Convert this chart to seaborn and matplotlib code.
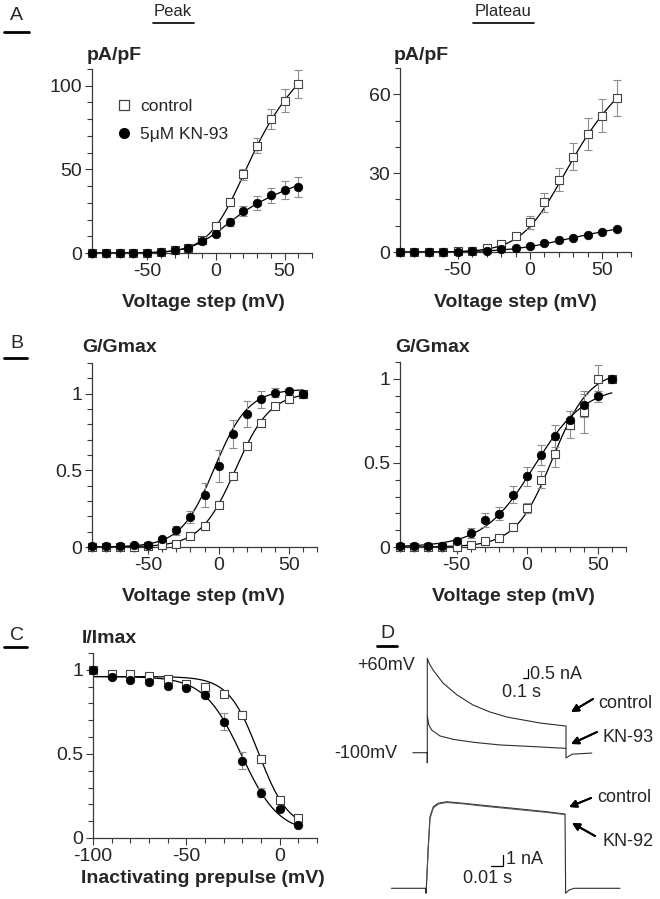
import matplotlib.pyplot as plt
import seaborn as sns
import numpy as np
from matplotlib.ticker import MultipleLocator, FuncFormatter
from matplotlib.lines import Line2D

sns.set_style('ticks')
plt.rcParams['font.family'] = ['Liberation Sans', 'DejaVu Sans']
plt.rcParams['axes.unicode_minus'] = False

W, H = 660, 899

# ---------------- data ----------------
volts = [-90, -80, -70, -60, -50, -40, -30, -20, -10, 0, 10, 20, 30, 40, 50, 60]
prepulse = [-100, -90, -80, -70, -60, -50, -40, -30, -20, -10, 0, 10]

# A, peak current density (pA/pF)
peak_ctrl = [0, 0, 0, 0, 0, 0.8, 1.5, 3, 7.5, 16, 30.5, 47, 64, 80, 91, 101]
peak_ctrl_err = [0, 0, 0, 0, 0, 0, 0.3, 0.5, 1, 1.5, 2, 3.5, 4.5, 6, 7, 8.5]
peak_kn = [0, 0, 0, 0, 0, 0.8, 1.5, 3.2, 7, 11.5, 18.5, 25, 30, 34.5, 37.5, 39.5]
peak_kn_err = [0, 0, 0, 0, 0, 0, 0.3, 0.5, 1, 1.5, 2.5, 3, 4, 4.5, 5.5, 6]

# A, plateau current density (pA/pF)
plat_ctrl = [0, 0, 0, 0, 0.3, 0.5, 1.5, 3, 6, 11.3, 18.9, 27.5, 36.3, 44.9, 51.9, 58.6]
plat_ctrl_err = [0, 0, 0, 0, 0, 0, 0.3, 0.5, 1, 2.5, 3.5, 4.3, 5.2, 6, 6.3, 6.7]
plat_kn = [0, 0, 0, 0, 0.1, 0.3, 0.5, 1, 1.5, 2.2, 3.3, 4.4, 5.2, 6.5, 7.5, 8.7]
plat_kn_err = [0] * 16

# B, G/Gmax peak
gpk_ctrl = [0, 0, 0, 0, 0.005, 0.01, 0.02, 0.07, 0.14, 0.275, 0.465, 0.66, 0.81, 0.92, 0.965, 1.0]
gpk_ctrl_err = [0, 0, 0, 0, 0, 0, 0, 0.005, 0.01, 0.01, 0.01, 0.01, 0.01, 0.01, 0.005, 0]
gpk_kn = [0.005, 0.005, 0.005, 0.01, 0.015, 0.054, 0.11, 0.195, 0.34, 0.53, 0.735, 0.87, 0.963, 1.006, 1.02, 1.0]
gpk_kn_err = [0, 0, 0, 0, 0, 0.01, 0.03, 0.04, 0.08, 0.105, 0.09, 0.085, 0.055, 0.03, 0.01, 0]

# B, G/Gmax plateau
gpl_ctrl = [0, 0, 0, 0, 0, 0.01, 0.038, 0.055, 0.12, 0.23, 0.40, 0.555, 0.727, 0.80, 1.0, 1.0]
gpl_ctrl_err = [0, 0, 0, 0, 0, 0, 0.005, 0.01, 0.01, 0.03, 0.05, 0.08, 0.08, 0.125, 0.085, 0]
gpl_kn = [0.005, 0.005, 0.005, 0.005, 0.036, 0.083, 0.16, 0.198, 0.31, 0.42, 0.547, 0.661, 0.756, 0.842, 0.895, 1.0]
gpl_kn_err = [0, 0, 0, 0, 0.01, 0.03, 0.04, 0.04, 0.05, 0.055, 0.06, 0.065, 0.055, 0.07, 0.03, 0]

# C, steady-state inactivation I/Imax
inact_ctrl = [1.0, 0.976, 0.975, 0.965, 0.948, 0.918, 0.896, 0.855, 0.732, 0.467, 0.225, 0.121]
inact_ctrl_err = [0, 0, 0, 0, 0, 0, 0, 0.01, 0.015, 0.02, 0.01, 0.01]
inact_kn = [1.0, 0.96, 0.938, 0.93, 0.903, 0.889, 0.851, 0.692, 0.459, 0.27, 0.175, 0.08]
inact_kn_err = [0, 0, 0, 0, 0, 0, 0.01, 0.05, 0.05, 0.025, 0.01, 0.005]

# fitted curve parameters: (g, Erev, Vhalf, k) for I-V, (A, Vhalf, k) for G-V,
# (top, bottom, Vhalf, k) for inactivation
iv_peak_ctrl_fit = (0.72, -85, 13.8, 13.3)
iv_peak_kn_fit = (0.282, -85, 0, 13)
iv_plat_ctrl_fit = (0.4236, -85, 15, 15)
iv_plat_kn_fit = (0.0649, -85, 10, 20)
gv_peak_ctrl_fit = (1.01, 12, 12.4)
gv_peak_kn_fit = (1.03, -2.9, 12)
gv_plat_ctrl_fit = (1.05, 18, 13)
gv_plat_kn_fit = (0.96, 5, 18)
inact_ctrl_fit = (0.96, 0.05, -11.3, 8.05)
inact_kn_fit = (0.96, 0.03, -20.5, 10)

# D, current traces (time s, current nA)
d1_ctrl_t = [-0.29, 0, 0, 0, 0.04, 0.114, 0.314, 0.594, 0.914, 1.254, 1.594, 1.914, 2.254, 2.774, 2.774, 2.9, 3.29]
d1_ctrl_i = [0, 0, -0.56, 5.24, 4.95, 4.6, 3.87, 3.21, 2.65, 2.26, 1.98, 1.82, 1.65, 1.48, -0.29, -0.08, -0.02]
d1_kn_t = [0, 0.03, 0.087, 0.254, 0.52, 0.92, 1.454, 2.12, 2.774]
d1_kn_i = [2.04, 1.55, 1.26, 0.93, 0.74, 0.58, 0.43, 0.34, 0.24]
d2_ctrl_t = [-0.027, 0, 0.0003, 0.0008, 0.002, 0.0034, 0.006, 0.0099, 0.0165, 0.0296, 0.0428,
             0.069, 0.0953, 0.1097, 0.1102, 0.113, 0.117, 0.153]
d2_ctrl_i = [0, 0, -0.45, 0.75, 3.78, 6.51, 7.42, 7.73, 7.87, 7.73, 7.57, 7.27, 6.96, 6.75, -0.45, -0.15, 0, 0]
d2_kn_t = [0.0008, 0.002, 0.0034, 0.006, 0.0099, 0.0165, 0.0296, 0.0428, 0.069, 0.0953, 0.1097]
d2_kn_i = [0.7, 3.6, 6.35, 7.3, 7.66, 7.8, 7.68, 7.5, 7.2, 6.9, 6.7]


def iv_curve(v, p):
    g, erev, vh, k = p
    return g * (v - erev) / (1 + np.exp((vh - v) / k))


def gv_curve(v, p):
    a, vh, k = p
    return a / (1 + np.exp((vh - v) / k))


def inact_curve(v, p):
    top, bot, vh, k = p
    return (top - bot) / (1 + np.exp((v - vh) / k)) + bot


fig = plt.figure(figsize=(W / 100, H / 100), dpi=100)


def px_axes(x0, x1, ytop, ybot):
    return fig.add_axes([x0 / W, 1 - ybot / H, (x1 - x0) / W, (ybot - ytop) / H])


def fx(x):
    return x / W


def fy(y):
    return 1 - y / H


AX_C = '#3a3a3a'
ERR_C = '#8c8c8c'


def style(ax, xlim, ylim, xmaj, ymaj, ymin):
    ax.set_xlim(xlim)
    ax.set_ylim(ylim)
    ax.xaxis.set_major_locator(MultipleLocator(xmaj))
    ax.xaxis.set_minor_locator(MultipleLocator(10))
    ax.yaxis.set_major_locator(MultipleLocator(ymaj))
    ax.yaxis.set_minor_locator(MultipleLocator(ymin))
    ax.yaxis.set_major_formatter(FuncFormatter(lambda v, p: '%g' % round(v, 3)))
    sns.despine(ax=ax)
    for s in ['left', 'bottom']:
        ax.spines[s].set_color(AX_C)
        ax.spines[s].set_linewidth(0.9)
    ax.tick_params(which='major', length=5, width=0.8, color=AX_C, labelsize=14, pad=2)
    ax.tick_params(which='minor', length=3.5, width=0.8, color=AX_C)


def draw_series(ax, x, ctrl, ctrl_err, kn, kn_err, xfit, ctrl_fit, kn_fit):
    sns.lineplot(x=xfit, y=ctrl_fit, ax=ax, color='black', lw=0.9)
    sns.lineplot(x=xfit, y=kn_fit, ax=ax, color='black', lw=0.9)
    for vals, errs in [(ctrl, ctrl_err), (kn, kn_err)]:
        xs = [a for a, e in zip(x, errs) if e > 0]
        ys = [b for b, e in zip(vals, errs) if e > 0]
        es = [e for e in errs if e > 0]
        if xs:
            ax.errorbar(xs, ys, yerr=es, fmt='none', ecolor=ERR_C, elinewidth=0.8,
                        capsize=3, capthick=0.8, zorder=3)
    sns.scatterplot(x=x, y=ctrl, ax=ax, marker='s', s=32, color='white',
                    edgecolor='#444444', linewidth=0.8, zorder=4, clip_on=False)
    sns.scatterplot(x=x, y=kn, ax=ax, marker='o', s=38, color='black',
                    edgecolor='black', linewidth=0.5, zorder=5, clip_on=False)


def labels(ax, xlab, xpos, ylab, ypos):
    ax.set_xlabel(xlab, fontsize=14, fontweight='bold', va='center')
    ax.xaxis.set_label_coords(*xpos)
    ax.set_ylabel(ylab, fontsize=14, fontweight='bold', rotation=0, ha='left', va='center')
    ax.yaxis.set_label_coords(*ypos)


vfit = np.linspace(-90, 60, 301)
vfit_c = np.linspace(-100, 10, 221)

# ---- A left: peak ----
ax = px_axes(92, 312, 69, 253)
draw_series(ax, volts, peak_ctrl, peak_ctrl_err, peak_kn, peak_kn_err,
            vfit, iv_curve(vfit, iv_peak_ctrl_fit), iv_curve(vfit, iv_peak_kn_fit))
style(ax, (-90, 70), (0, 110), 50, 50, 10)
labels(ax, 'Voltage step (mV)', (0.505, -0.27), 'pA/pF', (-0.025, 1.076))
handles = [Line2D([], [], marker='s', ls='', mfc='white', mec='#444444', ms=6.5, mew=0.9),
           Line2D([], [], marker='o', ls='', mfc='black', mec='black', ms=7)]
ax.legend(handles, ['control', '5\u03bcM KN-93'], loc='upper left', bbox_to_anchor=(0.115, 0.84),
          frameon=False, fontsize=12.5, handlelength=0.8, handletextpad=0.5,
          labelspacing=0.75, borderaxespad=0, borderpad=0)

# ---- A right: plateau ----
ax = px_axes(400, 631, 68, 252)
draw_series(ax, volts, plat_ctrl, plat_ctrl_err, plat_kn, plat_kn_err,
            vfit, iv_curve(vfit, iv_plat_ctrl_fit), iv_curve(vfit, iv_plat_kn_fit))
style(ax, (-90, 70), (0, 70), 50, 30, 10)
labels(ax, 'Voltage step (mV)', (0.498, -0.276), 'pA/pF', (-0.026, 1.07))

# ---- B left ----
ax = px_axes(92, 317, 363, 547)
draw_series(ax, volts, gpk_ctrl, gpk_ctrl_err, gpk_kn, gpk_kn_err,
            vfit, gv_curve(vfit, gv_peak_ctrl_fit), gv_curve(vfit, gv_peak_kn_fit))
style(ax, (-90, 70), (0, 1.2), 50, 0.5, 0.1)
labels(ax, 'Voltage step (mV)', (0.494, -0.268), 'G/Gmax', (-0.045, 1.085))

# ---- B right ----
ax = px_axes(400, 626, 362, 547)
draw_series(ax, volts, gpl_ctrl, gpl_ctrl_err, gpl_kn, gpl_kn_err,
            vfit, gv_curve(vfit, gv_plat_ctrl_fit), gv_curve(vfit, gv_plat_kn_fit))
style(ax, (-90, 70), (0, 1.1), 50, 0.5, 0.1)
labels(ax, 'Voltage step (mV)', (0.5, -0.266), 'G/Gmax', (-0.022, 1.08))

# ---- C ----
ax = px_axes(93, 317, 653, 838)
draw_series(ax, prepulse, inact_ctrl, inact_ctrl_err, inact_kn, inact_kn_err,
            vfit_c, inact_curve(vfit_c, inact_ctrl_fit), inact_curve(vfit_c, inact_kn_fit))
style(ax, (-100, 20), (0, 1.1), 50, 0.5, 0.1)
labels(ax, 'Inactivating prepulse (mV)', (0.492, -0.218), 'I/Imax', (-0.049, 1.081))

# ---- D traces ----
TR_C = '#2e2e2e'
ax1 = px_axes(330, 660, 640, 770)
ax1.set_xlim(-1.946, 4.654)
ax1.set_ylim(-0.961, 6.261)
ax1.axis('off')
sns.lineplot(x=d1_ctrl_t, y=d1_ctrl_i, ax=ax1, color=TR_C, lw=0.8, sort=False, estimator=None)
sns.lineplot(x=d1_kn_t, y=d1_kn_i, ax=ax1, color=TR_C, lw=0.8, sort=False, estimator=None)
ax1.plot([1.92, 2.02, 2.02], [4.13, 4.13, 4.63], color='black', lw=0.9)
ax1.text(2.06, 4.37, '0.5 nA', fontsize=13, va='center', ha='left')
ax1.text(1.49, 3.37, '0.1 s', fontsize=13, va='center', ha='left')

ax2 = px_axes(330, 660, 780, 899)
ax2.set_xlim(-0.07535, 0.18449)
ax2.set_ylim(-0.973, 9.845)
ax2.axis('off')
sns.lineplot(x=d2_ctrl_t, y=d2_ctrl_i, ax=ax2, color=TR_C, lw=0.8, sort=False, estimator=None)
sns.lineplot(x=d2_kn_t, y=d2_kn_i, ax=ax2, color='#555555', lw=0.8, sort=False, estimator=None)
ax2.plot([0.0511, 0.0611, 0.0611], [2.03, 2.03, 3.03], color='black', lw=0.9)
ax2.text(0.0635, 2.58, '1 nA', fontsize=13, va='center', ha='left')
ax2.text(0.0294, 0.85, '0.01 s', fontsize=13, va='center', ha='left')

fig.text(fx(415), fy(665), '+60mV', fontsize=13, ha='right', va='center')
fig.text(fx(397), fy(753), '-100mV', fontsize=13, ha='right', va='center')

arrows = [('control', (598, 703), (593, 699), (571, 712)),
          ('KN-93', (602, 737), (597, 732), (571, 744)),
          ('control', (597, 797), (591, 798), (569, 807)),
          ('KN-92', (603, 841), (595, 836), (572, 823))]
for txt, tpos, tail, head in arrows:
    fig.text(fx(tpos[0]), fy(tpos[1]), txt, fontsize=13, ha='left', va='center')
    fig.add_artist(plt.annotate('', xy=(fx(head[0]), fy(head[1])), xycoords='figure fraction',
                                xytext=(fx(tail[0]), fy(tail[1])), textcoords='figure fraction',
                                arrowprops=dict(arrowstyle='-|>', color='black', lw=1.4,
                                                mutation_scale=11, shrinkA=0, shrinkB=0)))

# ---- headers and panel letters ----
fig.text(fx(173), fy(11), 'Peak', fontsize=12, ha='center', va='center')
fig.text(fx(503), fy(11), 'Plateau', fontsize=12, ha='center', va='center')
fig.add_artist(Line2D([fx(153), fx(194)], [fy(23), fy(23)], color='black', lw=1.2))
fig.add_artist(Line2D([fx(473), fx(534)], [fy(23), fy(23)], color='black', lw=1.2))

for letter, cx, cy, uy, x0, x1 in [('A', 16, 15, 32, 4, 29), ('B', 17, 344, 358, 4, 27),
                                    ('C', 17, 635, 647, 4, 27), ('D', 387, 633, 646, 377, 397)]:
    fig.text(fx(cx), fy(cy), letter, fontsize=14, ha='center', va='center')
    fig.add_artist(Line2D([fx(x0), fx(x1)], [fy(uy), fy(uy)], color='black', lw=2))

fig.savefig('out.png', dpi=100)
